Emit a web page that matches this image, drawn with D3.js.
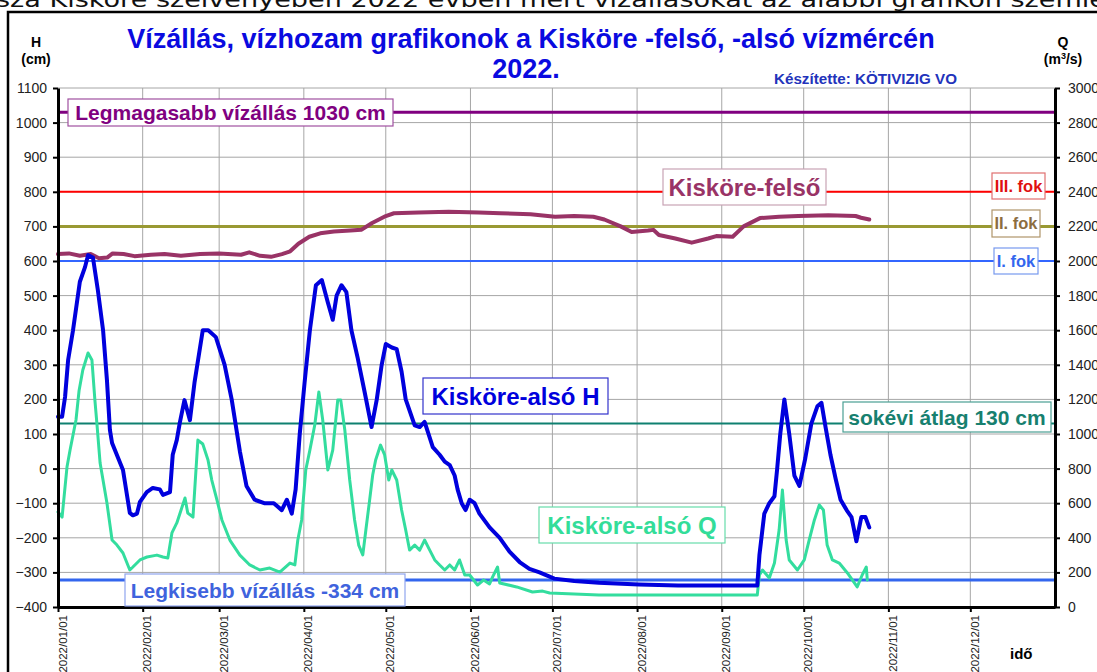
<!DOCTYPE html>
<html>
<head>
<meta charset="utf-8">
<script src="https://cdn.jsdelivr.net/npm/d3@7"></script>
<style>
body { margin: 0; background: #fff; }
svg { display: block; font-family: Arial, "Liberation Sans", sans-serif; }
</style>
</head>
<body>
<svg id="chart" width="1097" height="672"></svg>
<script>
// day offsets from 2022-01-01 and the readings
var felsoDays = [0,4,8,12,15,18,20,24,28,34,39,45,52,59,67,70,74,78,82,85,88,92,96,101,107,111,115,120,123,132,143,154,162,173,182,189,196,200,206,210,216,218,220,226,232,238,241,247,251,257,264,271,282,292,294,297];
var felsoH = [620,622,615,620,608,610,622,620,614,618,620,615,620,622,618,625,615,612,620,628,650,670,680,685,688,690,710,730,738,740,742,740,738,735,728,730,728,720,700,684,688,690,675,665,653,665,672,670,700,724,728,730,732,730,725,720];

var alsoDays = [0,1.5,2.6,3.7,5.5,8,9.9,11,12.8,14.6,16.5,17.9,19,19.8,23.8,26.3,27.4,28.9,30,32.5,
	34.7,37.3,38.4,41,42,43.5,44.6,46.3,48.3,50,53,55,57.8,61,63.6,66.6,69,72,75.5,79,
	81.9,83.8,85.6,87,88.5,90.3,92.2,94.4,96.6,98.8,100.6,102,103.8,105.6,107.4,109.7,112.3,114.8,116.7,118.5,
	120,122.2,124,125.8,127.3,130.6,132.4,134.2,137.2,139.7,141.6,143.4,145.2,146.3,147.8,149.2,150.7,152.5,154.3,158,
	161.7,165.3,169,172.6,176.3,181.7,189,198,212.7,227,242,256,256.8,258.6,260.4,262.3,263.3,264.4,265.9,267.7,
	269.6,271.4,273.6,275.8,278,279.5,281,282.8,284.7,286.5,288.7,290.5,292.3,294.1,295.6,297];
var alsoH = [150,150,207,314,400,540,583,617,610,516,400,256,112,74,-4,-128,-135,-130,-96,-68,
	-56,-60,-76,-68,40,83,132,198,140,250,400,400,380,300,200,50,-50,-90,-100,-100,
	-120,-90,-130,-60,100,250,400,530,545,480,430,500,530,510,400,320,220,120,200,300,
	360,350,345,280,200,125,120,135,62,40,20,10,-20,-60,-100,-120,-90,-100,-130,-170,
	-200,-240,-270,-290,-300,-318,-325,-330,-335,-338,-338,-338,-250,-130,-100,-80,0,100,200,100,
	-20,-50,30,130,180,190,120,40,-30,-90,-120,-140,-210,-140,-140,-170];

var qDays = [0,1.5,3.3,4.4,6.6,7.7,9.1,11,12.4,13.5,14.3,15.4,17.9,19.8,21.6,23.8,26.3,27.4,30,32.6,
	36.2,38.4,40.2,41.7,43.5,45.4,46.5,47.5,49.4,51.2,53,54.9,56.3,58.2,60,62.9,66.6,70.2,73.9,77.5,
	81.2,84.9,86.7,87.8,89.2,90.7,92.2,94,95.5,96.9,98.8,100.6,102.4,103.5,105,106.8,108.6,110.1,111.6,112.7,
	114.1,115.2,116.3,118.1,119.6,121.1,122.2,124,125.8,127.3,128.7,130.6,132.4,134.2,136.1,137.9,139.7,141.6,143.4,145.2,
	147,148.9,150.7,153.6,155.8,158,159.1,160.9,161.7,167.9,173.7,177.4,180,198,235,256,256.8,257.9,260.4,262.3,
	264,265.2,266.6,267.7,270.7,273.2,275,276.9,278.7,280.2,281.6,283.5,286,289,292.6,294.4,295.9,296.3];
var qValues = [549,520,809,907,1081,1250,1370,1468,1428,1197,1052,832,601,387,358,312,214,231,272,289,
	300,289,283,428,486,578,630,543,520,965,942,850,734,618,503,387,300,243,214,225,
	202,254,243,387,503,792,907,1052,1243,1081,792,907,1197,1197,1023,734,503,358,301,445,
	618,763,850,936,879,734,792,734,561,445,329,358,329,387,329,272,243,214,243,214,
	272,185,185,127,156,133,173,231,139,116,87,92,81,69,69,69,185,214,168,254,
	445,676,387,272,214,272,387,503,590,561,358,272,254,197,116,185,231,156];

// reference levels (cm)
var refNames = ["Legmagasabb vízállás 1030 cm", "III. fok", "II. fok", "I. fok", "sokévi átlag 130 cm", "Legkisebb vízállás -334 cm"];
var refValues = [1030, 800, 700, 600, 130, -322];

var hTicks = d3.range(-400, 1101, 100);
var qTicks = d3.range(0, 3001, 200);

var svg = d3.select("#chart");
var start = new Date(2022, 0, 1), end = new Date(2023, 0, 1);

var x = d3.scaleTime().domain([start, end]).range([58, 1055]);
var yH = d3.scaleLinear().domain([-400, 1100]).range([607, 88]);
var yQ = d3.scaleLinear().domain([0, 3000]).range([607, 88]);

function toDate(d) { return d3.timeHour.offset(start, Math.round(d * 24)); }
var months = d3.timeMonth.range(start, end);

// cut off text line at the very top
svg.append("text")
	.attr("x", -4).attr("y", 7)
	.attr("textLength", 1110).attr("lengthAdjust", "spacingAndGlyphs")
	.style("font-family", "'DejaVu Sans', Verdana, sans-serif")
	.style("font-size", "22px")
	.attr("fill", "#111")
	.text("sza Kisköre szelvényében 2022 évben mért vízállásokat az alábbi grafikon szemlé");

// frame
svg.append("rect")
	.attr("x", 8).attr("y", 12).attr("width", 1100).attr("height", 700)
	.attr("fill", "#fff").attr("stroke", "#000").attr("stroke-width", 2.5);

// grid
var grid = svg.append("g").attr("stroke", "#a6a6a6").attr("stroke-width", 1);
grid.selectAll("line.h").data(hTicks.slice(1)).enter().append("line")
	.attr("x1", x.range()[0]).attr("x2", x.range()[1])
	.attr("y1", function(d) { return yH(d); }).attr("y2", function(d) { return yH(d); });
grid.selectAll("line.v").data(months.slice(1)).enter().append("line")
	.attr("x1", function(d) { return x(d); }).attr("x2", function(d) { return x(d); })
	.attr("y1", yH.range()[1]).attr("y2", yH.range()[0]);

// reference lines
var refColors = ["#800080", "#ff0000", "#999933", "#3366ff", "#0f8070", "#3366ee"];
var refWidths = [3, 2, 3, 2, 2, 3];
svg.append("g").selectAll("line").data(refValues).enter().append("line")
	.attr("x1", x.range()[0]).attr("x2", x.range()[1])
	.attr("y1", function(d) { return yH(d); }).attr("y2", function(d) { return yH(d); })
	.attr("stroke", function(d, i) { return refColors[i]; })
	.attr("stroke-width", function(d, i) { return refWidths[i]; });

// series
function series(days, vals, scale, color, w) {
	var pts = days.map(function(d, i) { return [toDate(d), vals[i]]; });
	var line = d3.line()
		.x(function(p) { return x(p[0]); })
		.y(function(p) { return scale(p[1]); });
	svg.append("path").datum(pts)
		.attr("d", line)
		.attr("fill", "none")
		.attr("stroke", color)
		.attr("stroke-width", w)
		.attr("stroke-linejoin", "round")
		.attr("stroke-linecap", "round");
}
series(qDays, qValues, yQ, "#33dd9e", 3);
series(felsoDays, felsoH, yH, "#993366", 4);
series(alsoDays, alsoH, yH, "#0000dd", 4);

// axes
var axL = svg.append("g").attr("transform", "translate(58,0)")
	.call(d3.axisLeft(yH).tickValues(hTicks).tickFormat(d3.format("d"))
		.tickSize(5).tickSizeOuter(0).tickPadding(6));
var axR = svg.append("g").attr("transform", "translate(1055,0)")
	.call(d3.axisRight(yQ).tickValues(qTicks).tickFormat(d3.format("d"))
		.tickSize(5).tickSizeOuter(0).tickPadding(8));
var axB = svg.append("g").attr("transform", "translate(0,607)")
	.call(d3.axisBottom(x).tickValues(months).tickSize(5).tickSizeOuter(0)
		.tickFormat(d3.timeFormat("%Y/%m/%d")));
[axL, axR, axB].forEach(function(a) {
	a.select(".domain").attr("stroke", "#000").attr("stroke-width", 3);
	a.selectAll(".tick line").attr("stroke", "#000").attr("stroke-width", 2);
	a.selectAll("text").attr("fill", "#222").style("font-size", "14px")
		.style("font-family", "Arial, 'Liberation Sans', sans-serif");
});
axB.selectAll("text")
	.style("font-size", "11.5px")
	.attr("text-anchor", "end")
	.attr("transform", "translate(4,8) rotate(-90)")
	.attr("x", 0).attr("y", 0).attr("dy", "0.35em");

// label boxes
function box(x0, y0, x1, y1, label, size, color, border) {
	svg.append("rect")
		.attr("x", x0).attr("y", y0).attr("width", x1 - x0).attr("height", y1 - y0)
		.attr("fill", "#fff").attr("stroke", border).attr("stroke-width", 1.2);
	svg.append("text")
		.attr("x", (x0 + x1) / 2).attr("y", (y0 + y1) / 2).attr("dy", "0.36em")
		.attr("text-anchor", "middle")
		.style("font-size", size + "px").style("font-weight", "bold")
		.attr("fill", color)
		.text(label);
}
box(68, 99, 393, 126, refNames[0], 21, "#800080", "#a050a0");
box(992, 173, 1045, 199, refNames[1], 16.5, "#e01010", "#e07070");
box(992, 210, 1040, 237, refNames[2], 16.5, "#8c6d3f", "#b0956a");
box(994, 248, 1038, 274, refNames[3], 16.5, "#3366ee", "#7799ee");
box(843, 402, 1051, 432, refNames[4], 21, "#17806f", "#4a9f93");
box(125, 574, 405, 606, refNames[5], 21, "#3f63dd", "#8fa5ee");
box(663, 169, 826, 205, "Kisköre-felső", 24, "#993366", "#c9a3b5");
box(423, 378, 608, 414, "Kisköre-alsó H", 24, "#0000dd", "#3333cc");
box(539, 507, 725, 543, "Kisköre-alsó Q", 24, "#33dd99", "#66ddaa");

// titles
svg.append("text").attr("x", 531).attr("y", 48).attr("text-anchor", "middle")
	.style("font-size", "27px").style("font-weight", "bold").attr("fill", "#0a0ae0")
	.text("Vízállás, vízhozam grafikonok a Kisköre -felső, -alsó vízmércén");
svg.append("text").attr("x", 526).attr("y", 78).attr("text-anchor", "middle")
	.style("font-size", "27px").style("font-weight", "bold").attr("fill", "#0a0ae0")
	.text("2022.");
svg.append("text").attr("x", 774).attr("y", 84)
	.attr("textLength", 183).attr("lengthAdjust", "spacingAndGlyphs")
	.style("font-size", "14px").style("font-weight", "bold").attr("fill", "#2233bb")
	.text("Készítette: KÖTIVIZIG VO");

// axis titles
svg.append("text").attr("x", 36).attr("y", 47).attr("text-anchor", "middle")
	.style("font-size", "14px").style("font-weight", "bold").text("H");
svg.append("text").attr("x", 36).attr("y", 64).attr("text-anchor", "middle")
	.style("font-size", "14px").style("font-weight", "bold").text("(cm)");
svg.append("text").attr("x", 1063).attr("y", 47).attr("text-anchor", "middle")
	.style("font-size", "14px").style("font-weight", "bold").text("Q");
var qt = svg.append("text").attr("x", 1063).attr("y", 64).attr("text-anchor", "middle")
	.style("font-size", "14px").style("font-weight", "bold");
qt.append("tspan").text("(m");
qt.append("tspan").attr("dy", -5).style("font-size", "9px").text("3");
qt.append("tspan").attr("dy", 5).text("/s)");
svg.append("text").attr("x", 1010).attr("y", 659)
	.style("font-size", "15px").style("font-weight", "bold").text("idő");
</script>
</body>
</html>
